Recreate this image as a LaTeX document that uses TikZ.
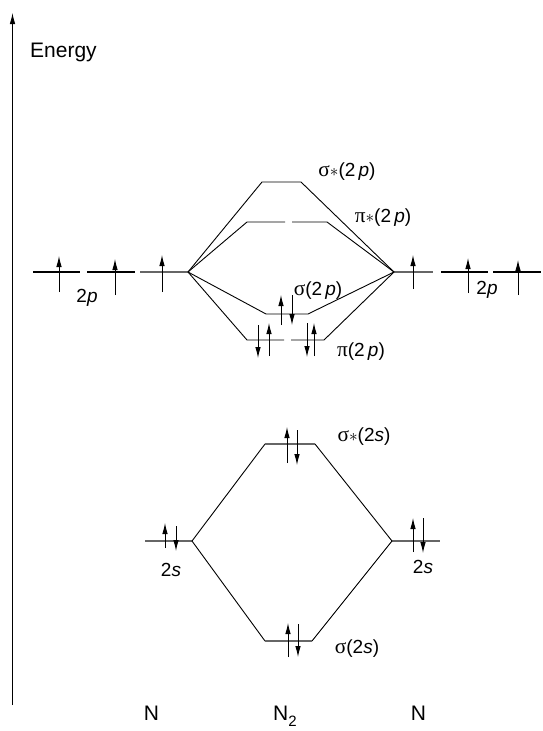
\documentclass[tikz,border=0pt]{standalone}
\usepackage{fontspec}
\setmainfont{Liberation Sans}
\newfontfamily\grk[Scale=1.12]{Liberation Serif}
\usetikzlibrary{arrows.meta}
\begin{document}
\begin{tikzpicture}[x=1pt,y=-1pt,
  conn/.style={line width=0.9pt},
  lvl/.style={line width=1.3pt, draw=black!60},
  boldlvl/.style={line width=2pt, draw=black},
  elec/.style={line width=0.9pt, -{Latex[length=11pt,width=5.5pt]}},
  lbl/.style={font=\fontsize{19}{19}\selectfont, inner sep=0pt},
  big/.style={font=\fontsize{21}{21}\selectfont, inner sep=0pt}]
\useasboundingbox (0,0) rectangle (542,731);
% energy axis
\coordinate (ax0) at (12.5,705);
\coordinate (ax1) at (12.5,13);
\draw[elec] (ax0) -- (ax1);
\node[big, anchor=west] (energy) at (30,52) {Energy};
% left 2p
\coordinate (lp1a) at (33,272); \coordinate (lp1b) at (80,272);
\coordinate (lp2a) at (87,272); \coordinate (lp2b) at (135,272);
\coordinate (lp3a) at (140,272); \coordinate (LF) at (188,272);
\draw[boldlvl] (lp1a) -- (lp1b);
\draw[boldlvl] (lp2a) -- (lp2b);
\draw[lvl] (lp3a) -- (LF);
\foreach \x/\a/\b [count=\i] in {59/292/256,115/295/259,162/292/255}{
  \coordinate (lu\i a) at (\x,\a); \coordinate (lu\i b) at (\x,\b);
  \draw[elec] (lu\i a) -- (lu\i b);}
\node[lbl] (l2p) at (87,298) {2\textit{p}};
% right 2p
\coordinate (RF) at (394,272); \coordinate (rp3b) at (433,272);
\coordinate (rp2a) at (441,272); \coordinate (rp2b) at (488,272);
\coordinate (rp1a) at (493,272); \coordinate (rp1b) at (541,272);
\draw[lvl] (RF) -- (rp3b);
\draw[boldlvl] (rp2a) -- (rp2b);
\draw[boldlvl] (rp1a) -- (rp1b);
\foreach \x/\a/\b [count=\i] in {413/289/255,468/293/258,518/295/260}{
  \coordinate (ru\i a) at (\x,\a); \coordinate (ru\i b) at (\x,\b);
  \draw[elec] (ru\i a) -- (ru\i b);}
\node[lbl] (r2p) at (487,290) {2\textit{p}};
% sigma* 2p
\coordinate (ss1) at (262,182); \coordinate (ss2) at (301,182);
\draw[conn] (LF) -- (ss1) -- (ss2) -- (RF);
\node[lbl] (lss) at (347,172) {{\grk σ}$\ast$(2\,\textit{p})};
% pi* 2p
\coordinate (ps1) at (247,222); \coordinate (ps1b) at (285,222);
\coordinate (ps2a) at (292,222); \coordinate (ps2) at (327,222);
\draw[conn] (LF) -- (ps1) -- (ps1b);
\draw[conn] (ps2a) -- (ps2) -- (RF);
\node[lbl] (lps) at (383,218) {{\grk π}$\ast$(2\,\textit{p})};
% sigma 2p
\coordinate (sg1) at (266,314); \coordinate (sg2) at (308,314);
\draw[conn] (LF) -- (sg1) -- (sg2) -- (RF);
\coordinate (sgua) at (281,325); \coordinate (sgub) at (281,295);
\coordinate (sgda) at (292,295); \coordinate (sgdb) at (292,325);
\draw[elec] (sgua) -- (sgub);
\draw[elec] (sgda) -- (sgdb);
\node[lbl] (lsg) at (318,291) {{\grk σ}(2\,\textit{p})};
% pi 2p
\coordinate (pi1) at (247,340); \coordinate (pi1b) at (284,340);
\coordinate (pi2a) at (291,340); \coordinate (pi2) at (324,340);
\draw[conn] (LF) -- (pi1) -- (pi1b);
\draw[conn] (pi2a) -- (pi2) -- (RF);
\foreach \x/\a/\b [count=\i] in {258/325/358,269/356/323,307/323/357,314/356/323}{
  \coordinate (pe\i a) at (\x,\a); \coordinate (pe\i b) at (\x,\b);
  \draw[elec] (pe\i a) -- (pe\i b);}
\node[lbl] (lpi) at (361,352) {{\grk π}(2\,\textit{p})};
% left 2s
\coordinate (ls0) at (145,541); \coordinate (LS) at (192,541);
\draw[lvl] (ls0) -- (LS);
\coordinate (lsua) at (165,548); \coordinate (lsub) at (165,523);
\coordinate (lsda) at (176,526); \coordinate (lsdb) at (176,551);
\draw[elec] (lsua) -- (lsub);
\draw[elec] (lsda) -- (lsdb);
\node[lbl] (l2s) at (171,570) {2\textit{s}};
% right 2s
\coordinate (RS) at (392,541); \coordinate (rs0) at (440,541);
\draw[lvl] (RS) -- (rs0);
\coordinate (rsua) at (413,552); \coordinate (rsub) at (413,518);
\coordinate (rsda) at (423,518); \coordinate (rsdb) at (423,553);
\draw[elec] (rsua) -- (rsub);
\draw[elec] (rsda) -- (rsdb);
\node[lbl] (r2s) at (423,567) {2\textit{s}};
% sigma* 2s
\coordinate (a1) at (265,444); \coordinate (a2) at (315,444);
\draw[conn] (LS) -- (a1); \draw[conn] (a2) -- (RS);
\draw[lvl] (a1) -- (a2);
\coordinate (aua) at (287,463); \coordinate (aub) at (287,427);
\coordinate (ada) at (297,430); \coordinate (adb) at (297,465);
\draw[elec] (aua) -- (aub);
\draw[elec] (ada) -- (adb);
\node[lbl] (la) at (364,437) {{\grk σ}$\ast$(2\textit{s})};
% sigma 2s
\coordinate (b1) at (265,641); \coordinate (b2) at (312,641);
\draw[conn] (LS) -- (b1); \draw[conn] (b2) -- (RS);
\draw[lvl] (b1) -- (b2);
\coordinate (bua) at (288,657); \coordinate (bub) at (288,623);
\coordinate (bda) at (298,624); \coordinate (bdb) at (298,657);
\draw[elec] (bua) -- (bub);
\draw[elec] (bda) -- (bdb);
\node[lbl] (lb) at (357,649) {{\grk σ}(2\textit{s})};
% bottom labels
\node[big, anchor=base] (nl) at (151.5,720) {N};
\node[big, anchor=base west] (n2) at (273,720) {N\raisebox{-0.3em}{\fontsize{15}{15}\selectfont 2}};
\node[big, anchor=base] (nr) at (418.5,720) {N};
\end{tikzpicture}
\end{document}
